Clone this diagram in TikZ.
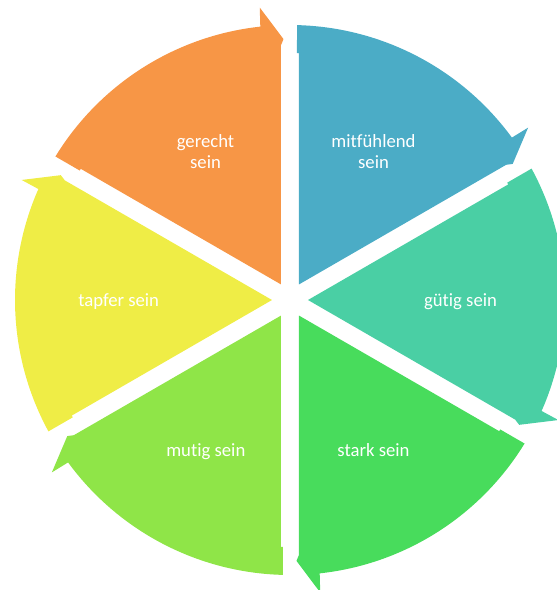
\documentclass[tikz,border=0pt]{standalone}
\usepackage{fontspec}
\setmainfont{Carlito}[Ligatures=NoCommon]
\usetikzlibrary{calc}
\definecolor{cblue}{RGB}{75,172,198}
\definecolor{cteal}{RGB}{74,207,164}
\definecolor{cgreen}{RGB}{72,220,92}
\definecolor{clgreen}{RGB}{143,229,72}
\definecolor{cyellow}{RGB}{239,237,70}
\definecolor{corange}{RGB}{247,150,70}
\tikzset{seglabel/.style={text=white,font=\fontsize{18.7}{21}\selectfont,align=center,inner sep=0pt,anchor=base}}
\newcommand\drawseg[2]{%
  \pgfmathsetmacro\segS{#1}%
  \pgfmathsetmacro\segE{#1-60}%
  \pgfmathsetmacro\segM{#1-30}%
  \pgfmathsetmacro\segSn{#1-90}%
  \pgfmathsetmacro\segEn{#1-60+90}%
  \pgfmathsetmacro\segSa{#1-1.46}%
  \pgfmathsetmacro\segEa{#1-60+6.2}%
  \pgfmathsetmacro\segEb{#1-60+5.9}%
  \fill[#2] (\segM:18)
    -- ($(\segS:246.8)+(\segSn:9)$)
    -- ($(\segS:246.8)+(\segSn:7)$)
    -- (\segSa:275) arc[start angle=\segSa, end angle=\segEa, radius=275]
    -- (\segEb:294)
    -- ($(\segE:260.9)+(\segEn:6.5)$)
    -- ($(\segE:254.8)+(\segEn:9)$)
    -- cycle;%
}
\begin{document}
\begin{tikzpicture}[x=1pt,y=1pt]
\useasboundingbox (-290,-290) rectangle (267,300);
\begin{scope}
\clip (-290,-290) rectangle (267,300);
\drawseg{90}{cblue}
\drawseg{30}{cteal}
\drawseg{-30}{cgreen}
\drawseg{-90}{clgreen}
\drawseg{-150}{cyellow}
\drawseg{150}{corange}
\end{scope}
\node[seglabel] (l1) at (83.5,132) {mitfühlend\\sein};
\node[seglabel] (l2) at (170.5,-6) {gütig sein};
\node[seglabel] (l3) at (83.5,-156) {stark sein};
\node[seglabel] (l4) at (-84.2,-156) {mutig sein};
\node[seglabel] (l5) at (-171.3,-6) {tapfer sein};
\node[seglabel] (l6) at (-84.5,132) {gerecht\\sein};
\end{tikzpicture}
\end{document}
